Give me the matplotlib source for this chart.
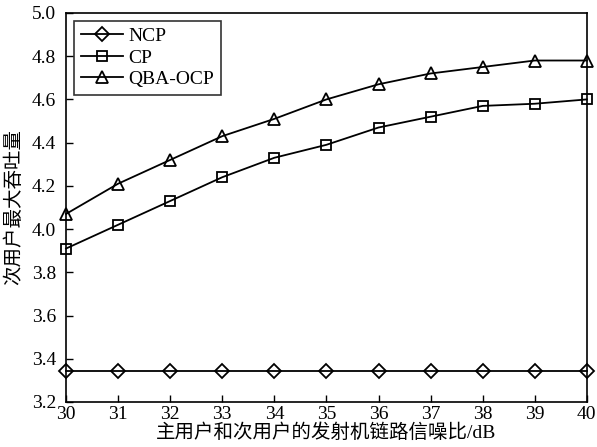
import matplotlib.pyplot as plt

# 发射机链路信噪比 (dB)
snr = [30, 31, 32, 33, 34, 35, 36, 37, 38, 39, 40]
ncp = [3.345] * 11
cp = [3.91, 4.02, 4.13, 4.24, 4.33, 4.39, 4.47, 4.52, 4.57, 4.58, 4.60]
qba_ocp = [4.07, 4.21, 4.32, 4.43, 4.51, 4.60, 4.67, 4.72, 4.75, 4.78, 4.78]

plt.rcParams['font.family'] = ['Liberation Serif', 'Noto Sans CJK SC']
plt.rcParams['font.size'] = 14

fig = plt.figure(figsize=(5.97, 4.47), dpi=100)
ax = fig.add_axes([0.1106, 0.1007, 0.8724, 0.8703])

mk = dict(color='black', lw=1.3, markersize=9, markerfacecolor='none',
          markeredgewidth=1.3, clip_on=False)
ax.plot(snr, ncp, marker='D', label='NCP', **{**mk, 'markersize': 7.5})
ax.plot(snr, cp, marker='s', label='CP', **{**mk, 'markersize': 7})
ax.plot(snr, qba_ocp, marker='^', label='QBA-OCP', **mk)

ax.set_xlim(30, 40)
ax.set_ylim(3.2, 5.0)
ax.set_xticks(range(30, 41))
ax.set_yticks([3.2, 3.4, 3.6, 3.8, 4.0, 4.2, 4.4, 4.6, 4.8, 5.0])
ax.tick_params(direction='in', length=5, width=1)
ax.tick_params(axis='y', pad=7)
ax.tick_params(axis='x', pad=3)
for s in ax.spines.values():
    s.set_linewidth(1.2)

ax.set_xlabel('主用户和次用户的发射机链路信噪比/dB', labelpad=0)
ax.set_ylabel('次用户最大吞吐量', labelpad=6)

leg = ax.legend(loc='upper left', fancybox=False, edgecolor='black',
                borderpad=0.35, labelspacing=0.2, handlelength=2.2,
                handletextpad=0.25, borderaxespad=0.4)
leg.get_frame().set_linewidth(1.2)

fig.savefig('out.png', dpi=100)
